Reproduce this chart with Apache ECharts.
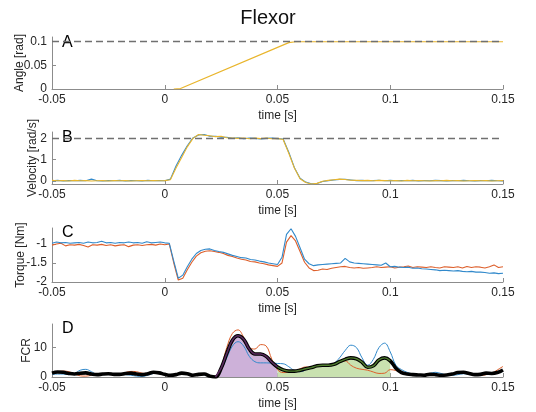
<!DOCTYPE html>
<html><head><meta charset="utf-8">
<script src="https://cdn.jsdelivr.net/npm/echarts@6/dist/echarts.min.js"></script>
<style>html,body{margin:0;padding:0;background:#fff}#c{width:536px;height:412px}</style>
</head><body><div id="c"></div>
<script>
// ---------- data ----------
var xTicks = [-0.05, 0, 0.05, 0.1, 0.15];
var xTickLabels = ['-0.05', '0', '0.05', '0.1', '0.15'];

// Panel A: angle
var tA = [0.004, 0.007, 0.055, 0.058, 0.15];
var angle = [0, 0.001, 0.098, 0.1, 0.1];
var angleTarget = 0.1;
var yTicksA = [0, 0.05, 0.1];
var yLabelsA = ['0', '0.05', '0.1'];

// Panel B: velocity
var tB = [-0.05,-0.0475,-0.045,-0.0425,-0.04,-0.0375,-0.035,-0.0325,-0.03,-0.0275,-0.025,-0.0225,-0.02,-0.0175,-0.015,-0.0125,-0.01,-0.0075,-0.005,-0.0025,
  0,0.0025,0.005,0.0075,0.01,0.0125,0.015,0.0175,0.02,0.0225,0.025,0.0275,0.03,0.0325,0.035,0.0375,0.04,0.0425,0.045,0.0475,
  0.05,0.0525,0.055,0.0575,0.06,0.0625,0.065,0.0675,0.07,0.0725,0.075,0.0775,0.08,0.0825,0.085,0.0875,0.09,0.0925,0.095,0.0975,
  0.1,0.1025,0.105,0.1075,0.11,0.1125,0.115,0.1175,0.12,0.1225,0.125,0.1275,0.13,0.1325,0.135,0.1375,0.14,0.1425,0.145,0.1475,0.15];
var velYellow = [0.02,0.0,0.01,-0.01,0.02,0.0,0.01,-0.01,0.0,0.01,-0.01,0.01,0.0,0.01,-0.01,0.0,0.01,0.0,0.01,0.0,
  0.01,0.05,0.6,1.1,1.6,2.0,2.18,2.15,2.12,2.08,2.1,2.03,2.02,2.0,2.02,1.98,2.01,1.99,2.02,1.98,
  2.0,1.95,1.3,0.6,0.1,-0.08,-0.15,-0.12,-0.02,0.02,0.05,0.08,0.06,0.03,0.02,0.01,0.02,0.0,0.02,0.01,
  0.0,0.01,-0.01,0.02,0.0,0.01,0.0,-0.01,0.01,0.0,0.02,0.0,0.01,-0.01,0.0,0.01,0.0,0.01,-0.01,0.0,0.01];
var velBlue = [0.0,0.02,-0.01,0.01,0.0,0.02,0.0,0.08,0.0,-0.01,0.01,0.0,0.02,-0.01,0.01,0.0,-0.01,0.02,0.0,0.01,
  0.0,0.08,0.7,1.2,1.65,2.02,2.16,2.18,2.1,2.1,2.06,2.05,2.0,2.03,1.98,2.01,2.0,1.97,2.0,2.01,
  1.99,1.97,1.35,0.62,0.12,-0.06,-0.14,-0.13,-0.03,0.01,0.04,0.07,0.07,0.04,0.01,0.02,0.0,0.01,0.03,0.0,
  0.02,0.0,0.01,0.0,0.02,-0.01,0.01,0.0,0.02,0.01,-0.01,0.01,0.0,0.02,0.0,-0.01,0.01,0.0,0.02,0.0,-0.01];
var velTarget = 2;
var yTicksB = [0, 1, 2];
var yLabelsB = ['0', '1', '2'];

// Panel C: torque
var tC = [-0.05,-0.048,-0.046,-0.044,-0.042,-0.04,-0.038,-0.036,-0.034,-0.032,-0.03,-0.028,-0.026,-0.024,-0.022,-0.02,-0.018,-0.016,-0.014,-0.012,
  -0.01,-0.008,-0.006,-0.004,-0.002,0,0.002,0.004,0.006,0.008,0.01,0.012,0.014,0.016,0.018,0.02,0.022,0.024,0.026,0.028,
  0.03,0.032,0.034,0.036,0.038,0.04,0.042,0.044,0.046,0.048,0.05,0.052,0.054,0.056,0.058,0.06,0.062,0.064,0.066,0.068,
  0.07,0.072,0.074,0.076,0.078,0.08,0.082,0.084,0.086,0.088,0.09,0.092,0.094,0.096,0.098,0.1,0.102,0.104,0.106,0.108,
  0.11,0.112,0.114,0.116,0.118,0.12,0.122,0.124,0.126,0.128,0.13,0.132,0.134,0.136,0.138,0.14,0.142,0.144,0.146,0.148,0.15];
var torqueBlue = [-0.98,-0.95,-0.97,-0.96,-0.98,-0.97,-0.96,-0.98,-0.95,-0.97,-0.96,-0.93,-0.97,-0.96,-0.98,-0.96,-0.97,-0.95,-0.97,-0.96,
  -0.98,-0.94,-0.97,-0.96,-0.95,-0.97,-0.98,-1.45,-1.9,-1.82,-1.6,-1.4,-1.25,-1.17,-1.14,-1.13,-1.17,-1.2,-1.22,-1.26,
  -1.3,-1.33,-1.36,-1.37,-1.41,-1.42,-1.45,-1.47,-1.5,-1.52,-1.54,-1.35,-0.75,-0.6,-0.8,-1.1,-1.4,-1.52,-1.57,-1.55,
  -1.54,-1.53,-1.52,-1.51,-1.5,-1.38,-1.47,-1.5,-1.51,-1.52,-1.53,-1.54,-1.55,-1.56,-1.5,-1.6,-1.59,-1.61,-1.62,-1.61,
  -1.64,-1.63,-1.65,-1.66,-1.67,-1.68,-1.7,-1.69,-1.7,-1.71,-1.7,-1.72,-1.73,-1.72,-1.74,-1.74,-1.75,-1.77,-1.76,-1.78,-1.77];
var torqueOrange = [-1.03,-1.0,-0.98,-1.05,-1.02,-1.03,-1.01,-1.04,-1.08,-1.02,-1.03,-1.01,-1.04,-1.02,-1.05,-1.03,-1.02,-1.07,-1.03,-1.02,
  -1.04,-1.02,-1.01,-1.03,-1.0,-1.02,-1.0,-1.5,-1.95,-1.9,-1.68,-1.48,-1.32,-1.23,-1.19,-1.18,-1.2,-1.22,-1.25,-1.3,
  -1.33,-1.37,-1.4,-1.42,-1.46,-1.47,-1.5,-1.52,-1.55,-1.57,-1.59,-1.5,-0.95,-0.78,-0.92,-1.2,-1.48,-1.63,-1.7,-1.69,
  -1.66,-1.67,-1.64,-1.62,-1.6,-1.59,-1.62,-1.63,-1.62,-1.64,-1.63,-1.62,-1.6,-1.62,-1.61,-1.6,-1.63,-1.61,-1.6,-1.58,
  -1.62,-1.6,-1.61,-1.62,-1.6,-1.62,-1.63,-1.6,-1.61,-1.62,-1.6,-1.63,-1.59,-1.62,-1.6,-1.61,-1.63,-1.6,-1.55,-1.62,-1.6];
var yTicksC = [-2, -1.5, -1];
var yLabelsC = ['-2', '-1.5', '-1'];

// Panel D: FCR EMG
var tD = tB;
var fcrMean = [1.3,1.7,1.6,1.2,1.0,1.3,1.4,1.0,0.8,1.0,1.1,0.9,0.9,1.2,1.3,1.0,0.8,1.1,1.6,1.4,
  0.9,0.6,0.8,1.3,1.1,0.6,0.9,1.0,0.3,0.0,3.0,8.0,12.5,14.0,12.8,9.5,7.8,7.8,7.0,5.0,
  3.4,2.4,2.0,2.0,2.3,2.8,3.2,3.8,4.0,4.0,4.3,5.2,6.0,6.5,6.2,5.0,3.3,3.8,5.8,6.5,
  5.5,3.0,1.5,1.0,0.8,0.7,0.6,0.9,0.8,0.6,0.7,1.0,1.5,1.6,1.2,0.8,0.9,1.3,1.2,1.5,2.4];
var fcrBlue = [0.9,1.0,1.0,0.8,1.2,2.3,2.6,1.8,0.9,0.8,0.9,1.0,0.9,0.8,0.6,0.3,0.2,0.6,1.2,1.3,
  0.9,0.6,0.8,1.1,1.0,0.7,0.8,0.8,0.3,0.2,2.5,6.5,10.5,12.0,10.5,7.0,5.2,4.8,4.8,4.7,
  4.6,4.5,3.5,2.2,1.8,2.4,3.3,3.8,4.1,4.0,4.6,6.5,9.0,10.8,10.0,6.5,4.0,6.0,10.0,11.5,
  8.5,4.0,2.5,1.6,1.0,0.8,0.7,1.2,1.6,1.2,0.7,0.6,0.8,1.1,1.0,0.8,0.9,1.1,1.2,1.4,1.9];
var fcrOrange = [1.4,1.8,2.0,1.8,1.0,0.4,0.3,0.6,0.9,1.0,1.0,0.9,1.0,1.5,1.9,1.8,1.3,1.2,1.7,1.4,
  0.9,0.6,0.8,1.3,1.1,0.6,0.9,1.0,0.3,0.2,3.5,10.0,14.8,16.0,13.5,10.0,9.5,11.0,10.5,6.0,
  2.5,1.5,1.6,2.0,2.8,3.4,3.3,3.9,4.0,4.0,4.4,5.0,5.5,4.0,3.0,2.6,2.3,1.7,1.2,1.3,
  2.5,2.2,1.5,1.0,0.6,0.5,0.5,0.6,0.7,0.6,0.6,0.9,1.4,1.5,1.1,0.6,0.5,0.8,1.3,2.4,3.6];
var window1 = [0.0225, 0.05];
var window2 = [0.05, 0.1];
var yTicksD = [0, 10];
var yLabelsD = ['0', '10'];

// ---------- helpers ----------
function pairs(t, v) { var o = []; for (var i = 0; i < t.length; i++) o.push([t[i], v[i]]); return o; }
function sub(t, v, a, b) { var o = []; for (var i = 0; i < t.length; i++) if (t[i] >= a - 1e-9 && t[i] <= b + 1e-9) o.push([t[i], v[i]]); return o; }

var FONT = 'Liberation Sans, Arial, Helvetica, sans-serif';
var AX = '#8c8c8c', TXT = '#262626';
var BLUE = '#3189cb', ORANGE = '#dd5f2b', YELLOW = '#e9b52c';

var grids = [
  {left: 52, width: 451, top: 37, height: 52},
  {left: 52, width: 451, top: 132, height: 52},
  {left: 52, width: 451, top: 228, height: 54},
  {left: 52, width: 451, top: 324, height: 53}
].map(function (g) { g.containLabel = false; g.outerBoundsMode = 'none'; return g; });

function xAx(i) {
  return {
    type: 'value', gridIndex: i, min: -0.05, max: 0.15,
    name: 'time [s]', nameLocation: 'middle', nameGap: 21, nameMoveOverlap: false,
    nameTextStyle: {fontSize: 12, color: TXT, fontFamily: FONT},
    axisLine: {show: true, onZero: false, lineStyle: {color: AX, width: 1}},
    axisTick: {show: true, inside: true, length: 4, lineStyle: {color: AX}, customValues: xTicks},
    axisLabel: {fontSize: 12, color: TXT, fontFamily: FONT, margin: 5, customValues: xTicks, hideOverlap: false,
      formatter: function (v) { for (var k = 0; k < xTicks.length; k++) if (Math.abs(v - xTicks[k]) < 1e-9) return xTickLabels[k]; return ''; }},
    splitLine: {show: false}
  };
}
function yAx(i, min, max, ticks, labels, name, gap) {
  return {
    type: 'value', gridIndex: i, min: min, max: max,
    name: name, nameLocation: 'middle', nameGap: gap, nameRotate: 90, nameMoveOverlap: false,
    nameTextStyle: {fontSize: 12, color: TXT, fontFamily: FONT},
    axisLine: {show: true, onZero: false, lineStyle: {color: AX, width: 1}},
    axisTick: {show: true, inside: true, length: 4, lineStyle: {color: AX}, customValues: ticks},
    axisLabel: {fontSize: 12, color: TXT, fontFamily: FONT, margin: 5, customValues: ticks, hideOverlap: false,
      formatter: function (v) { for (var k = 0; k < ticks.length; k++) if (Math.abs(v - ticks[k]) < 1e-9) return labels[k]; return ''; }},
    splitLine: {show: false}
  };
}
function dashed(val) {
  return {silent: true, symbol: ['none', 'none'], label: {show: false},
    lineStyle: {color: '#707070', type: [7, 4], width: 1.3}, data: [{yAxis: val}]};
}

var series = [
  // A
  {type: 'line', xAxisIndex: 0, yAxisIndex: 0, data: [], markLine: dashed(angleTarget), z: 1},
  {type: 'line', xAxisIndex: 0, yAxisIndex: 0, data: pairs(tA, angle), showSymbol: false, lineStyle: {color: YELLOW, width: 1.2}, z: 3},
  // B
  {type: 'line', xAxisIndex: 1, yAxisIndex: 1, data: [], markLine: dashed(velTarget), z: 1},
  {type: 'line', xAxisIndex: 1, yAxisIndex: 1, data: pairs(tB, velBlue), showSymbol: false, lineStyle: {color: BLUE, width: 1.1}, z: 2},
  {type: 'line', xAxisIndex: 1, yAxisIndex: 1, data: pairs(tB, velYellow), showSymbol: false, lineStyle: {color: YELLOW, width: 1.1}, z: 3},
  // C
  {type: 'line', xAxisIndex: 2, yAxisIndex: 2, data: pairs(tC, torqueOrange), showSymbol: false, lineStyle: {color: ORANGE, width: 1.1}, z: 2},
  {type: 'line', xAxisIndex: 2, yAxisIndex: 2, data: pairs(tC, torqueBlue), showSymbol: false, lineStyle: {color: BLUE, width: 1.1}, z: 3},
  // D fills
  {type: 'line', xAxisIndex: 3, yAxisIndex: 3, data: sub(tD, fcrMean, window1[0], window1[1]), smooth: 0.4, showSymbol: false,
    lineStyle: {width: 0}, areaStyle: {color: '#cdb1d9', opacity: 1}, z: 1},
  {type: 'line', xAxisIndex: 3, yAxisIndex: 3, data: sub(tD, fcrMean, window2[0], window2[1]), smooth: 0.4, showSymbol: false,
    lineStyle: {width: 0}, areaStyle: {color: '#c9e1b0', opacity: 1}, z: 1},
  // D lines
  {type: 'line', xAxisIndex: 3, yAxisIndex: 3, data: pairs(tD, fcrOrange), smooth: 0.4, showSymbol: false, lineStyle: {color: ORANGE, width: 1}, z: 2},
  {type: 'line', xAxisIndex: 3, yAxisIndex: 3, data: pairs(tD, fcrBlue), smooth: 0.4, showSymbol: false, lineStyle: {color: BLUE, width: 1}, z: 2},
  {type: 'line', xAxisIndex: 3, yAxisIndex: 3, data: pairs(tD, fcrMean), smooth: 0.4, showSymbol: false, lineStyle: {color: '#000', width: 3.6}, z: 4},
  {type: 'line', xAxisIndex: 3, yAxisIndex: 3, data: sub(tD, fcrMean, window1[0], window1[1]), smooth: 0.4, showSymbol: false, lineStyle: {color: '#5a2a5e', width: 1.6}, z: 5},
  {type: 'line', xAxisIndex: 3, yAxisIndex: 3, data: sub(tD, fcrMean, window2[0], window2[1]), smooth: 0.4, showSymbol: false, lineStyle: {color: '#4f7d2e', width: 1.4}, z: 5}
];

var letters = ['A', 'B', 'C', 'D'];
var letterTop = [35, 130, 225, 321];
var graphics = letters.map(function (L, i) {
  return {type: 'text', left: 62, top: letterTop[i], style: {text: L, fontSize: 16, fill: '#000', fontFamily: FONT}};
});

var chart = echarts.init(document.getElementById('c'), null, {renderer: 'canvas'});
chart.setOption({
  animation: false,
  backgroundColor: '#fff',
  title: {text: 'Flexor', left: 'center', top: 3, textStyle: {fontSize: 20, fontWeight: 'normal', color: '#111', fontFamily: FONT}},
  grid: grids,
  xAxis: [xAx(0), xAx(1), xAx(2), xAx(3)],
  yAxis: [
    yAx(0, 0, 0.11, yTicksA, yLabelsA, 'Angle [rad]', 26),
    yAx(1, -0.15, 2.3, yTicksB, yLabelsB, 'Velocity [rad/s]', 13),
    yAx(2, -2, -0.58, yTicksC, yLabelsC, 'Torque [Nm]', 25),
    yAx(3, 0, 18, yTicksD, yLabelsD, 'FCR', 19)
  ],
  graphic: graphics,
  series: series
});
</script></body></html>
